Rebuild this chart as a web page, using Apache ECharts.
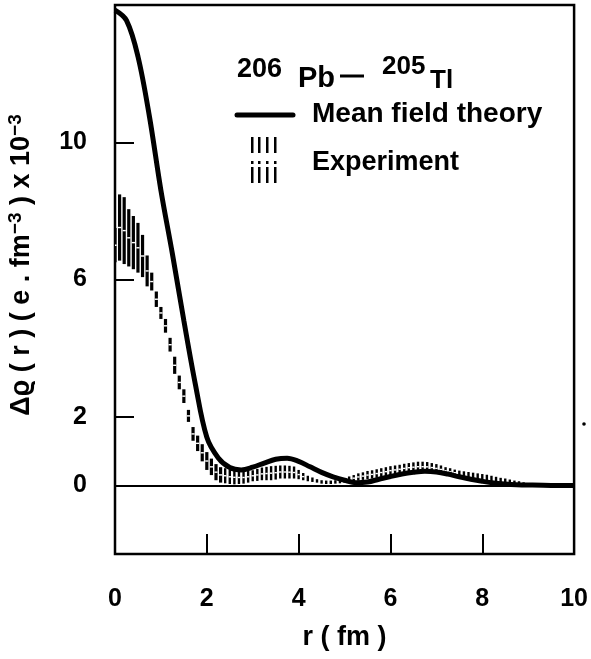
<!DOCTYPE html>
<html>
<head>
<meta charset="utf-8">
<script src="https://cdn.jsdelivr.net/npm/echarts@6/dist/echarts.min.js"></script>
<style>
  html, body { margin: 0; padding: 0; background: #fff; }
  #chart { width: 591px; height: 659px; }
</style>
</head>
<body>
<div id="chart"></div>
<script>
// mean field theory curve
const rTheory = [0, 0.25, 0.5, 0.75, 1.0, 1.25, 1.5, 1.75, 2.0, 2.25, 2.5, 2.75, 3.0, 3.25, 3.5, 3.75, 4.0, 4.25, 4.5, 4.75,
  5.0, 5.25, 5.5, 5.75, 6.0, 6.25, 6.5, 6.75, 7.0, 7.25, 7.5, 7.75, 8.0, 8.25, 8.5, 8.75, 9.0, 9.5, 10]
const theory = [13.85, 13.55, 12.5, 10.75, 8.6, 6.75, 4.8, 2.95, 1.4, 0.8, 0.52, 0.45, 0.53, 0.65, 0.76, 0.79, 0.7, 0.54, 0.38, 0.25,
  0.15, 0.08, 0.1, 0.18, 0.26, 0.33, 0.38, 0.41, 0.39, 0.33, 0.25, 0.18, 0.12, 0.07, 0.04, 0.02, 0.01, 0, 0]

// experiment error bars (low / high)
const rExp = [0, 0.1, 0.2, 0.3, 0.4, 0.5, 0.6, 0.7, 0.8, 0.9, 1.0, 1.1, 1.2, 1.3, 1.4, 1.5, 1.6, 1.7, 1.8, 1.9,
  2.0, 2.1, 2.2, 2.3, 2.4, 2.5, 2.6, 2.7, 2.8, 2.9, 3.0, 3.1, 3.2, 3.3, 3.4, 3.5, 3.6, 3.7, 3.8, 3.9,
  4.0, 4.1, 4.2, 4.3, 4.4, 4.5, 4.6, 4.7, 4.8, 4.9, 5.0, 5.1, 5.2, 5.3, 5.4, 5.5, 5.6, 5.7, 5.8, 5.9,
  6.0, 6.1, 6.2, 6.3, 6.4, 6.5, 6.6, 6.7, 6.8, 6.9, 7.0, 7.1, 7.2, 7.3, 7.4, 7.5, 7.6, 7.7, 7.8, 7.9,
  8.0, 8.1, 8.2, 8.3, 8.4, 8.5, 8.6, 8.7, 8.8, 8.9, 9.0]
const expLow = [6.5, 6.55, 6.45, 6.38, 6.3, 6.2, 6.07, 5.8, 5.68, 5.2, 4.85, 4.45, 3.9, 3.25, 2.8, 2.4, 1.85, 1.3, 1.0, 0.7,
  0.45, 0.3, 0.15, 0.08, 0.06, 0.04, 0.03, 0.04, 0.05, 0.08, 0.12, 0.13, 0.15, 0.15, 0.15, 0.17, 0.2, 0.2, 0.2, 0.2,
  0.18, 0.15, 0.12, 0.1, 0.08, 0.05, 0.04, 0.04, 0.05, 0.06, 0.08, 0.1, 0.12, 0.14, 0.16, 0.18, 0.2, 0.22, 0.25, 0.27,
  0.3, 0.32, 0.34, 0.36, 0.38, 0.39, 0.4, 0.4, 0.4, 0.39, 0.37, 0.35, 0.32, 0.3, 0.28, 0.26, 0.24, 0.22, 0.2, 0.18,
  0.16, 0.14, 0.12, 0.1, 0.09, 0.07, 0.06, 0.05, 0.04, 0.03, 0.02]
const expHigh = [7.5, 8.48, 8.4, 8.05, 7.85, 7.65, 7.3, 6.7, 6.2, 5.65, 5.2, 4.85, 4.3, 3.75, 3.2, 2.8, 2.2, 1.7, 1.45, 1.2,
  0.97, 0.78, 0.62, 0.53, 0.5, 0.46, 0.44, 0.42, 0.41, 0.42, 0.44, 0.48, 0.52, 0.54, 0.56, 0.57, 0.58, 0.58, 0.57, 0.55,
  0.45, 0.36, 0.28, 0.23, 0.18, 0.15, 0.14, 0.14, 0.15, 0.17, 0.2, 0.26, 0.3, 0.35, 0.38, 0.42, 0.44, 0.47, 0.5, 0.53,
  0.56, 0.58, 0.6, 0.63, 0.65, 0.67, 0.69, 0.69, 0.68, 0.65, 0.62, 0.58, 0.53, 0.5, 0.46, 0.43, 0.41, 0.39, 0.37, 0.35,
  0.33, 0.31, 0.28, 0.25, 0.22, 0.2, 0.17, 0.14, 0.12, 0.09, 0.06]

const xTicks = [2, 4, 6, 8]
const yTicks = [2, 6, 10]
const yLabels = [0, 2, 6, 10]

const FONT = "'Liberation Sans', Arial, sans-serif"

const myChart = echarts.init(document.getElementById('chart'), null, { renderer: 'canvas' })

const expData = rExp.map((r, i) => [r, expLow[i], expHigh[i]])

const option = {
  animation: false,
  backgroundColor: '#fff',
  grid: {
    left: 115, right: 14, top: 5, bottom: 105,
    show: true, borderColor: '#000', borderWidth: 2.5, backgroundColor: 'transparent'
  },
  xAxis: {
    type: 'value', min: 0, max: 10, interval: 2,
    axisLine: { show: false, onZero: false },
    splitLine: { show: false },
    axisTick: { show: true, inside: true, length: 20, customValues: xTicks, lineStyle: { color: '#000', width: 2 } },
    axisLabel: { color: '#000', fontFamily: FONT, fontWeight: 'bold', fontSize: 25, margin: 33 },
    name: 'r ( fm )', nameLocation: 'middle', nameGap: 70,
    nameTextStyle: { color: '#000', fontFamily: FONT, fontWeight: 'bold', fontSize: 27 }
  },
  yAxis: {
    type: 'value', min: -2, max: 14, interval: 2,
    axisLine: { show: false, onZero: false },
    splitLine: { show: false },
    axisTick: { show: true, inside: true, length: 19, customValues: yTicks, lineStyle: { color: '#000', width: 2 } },
    axisLabel: { color: '#000', fontFamily: FONT, fontWeight: 'bold', fontSize: 25, margin: 28, customValues: yLabels }
  },
  series: [
    {
      name: 'Experiment',
      type: 'custom',
      clip: true,
      data: expData,
      encode: { x: 0, y: [1, 2] },
      renderItem: function (params, api) {
        const lo = api.coord([api.value(0), api.value(1)])
        const hi = api.coord([api.value(0), api.value(2)])
        const w = api.value(0) < 2.4 ? 3.2 : 2.4
        const mid = (lo[1] + hi[1]) / 2
        const len = lo[1] - hi[1]
        return {
          type: 'group',
          children: [
            {
              type: 'rect',
              shape: { x: lo[0] - w / 2, y: hi[1], width: w, height: Math.max(len, 1.5) },
              style: { fill: '#000' }
            },
            {
              type: 'rect',
              shape: { x: lo[0] - w / 2, y: mid - 0.7, width: w, height: 1.4 },
              style: { fill: len > 6 ? '#fff' : 'rgba(0,0,0,0)' }
            }
          ]
        }
      },
      z: 2
    },
    {
      name: 'Mean field theory',
      type: 'line',
      data: rTheory.map((r, i) => [r, theory[i]]),
      smooth: 0.35,
      symbol: 'none',
      lineStyle: { color: '#000', width: 5 },
      z: 3,
      markLine: {
        silent: true,
        symbol: 'none',
        label: { show: false },
        lineStyle: { color: '#000', width: 2, type: 'solid' },
        data: [{ yAxis: 0 }]
      }
    }
  ],
  graphic: [
    // y-axis title
    {
      type: 'text', x: 22, y: 265, rotation: Math.PI / 2,
      style: {
        text: 'Δϱ ( r ) ( e . fm{sup|−3} ) x 10{sup|−3}',
        fill: '#000', font: 'bold 27px ' + FONT, align: 'center', verticalAlign: 'middle',
        rich: { sup: { fontSize: 19, fontWeight: 'bold', fontFamily: FONT, fill: '#000', verticalAlign: 'top', padding: [0, 0, 12, 0] } }
      }
    },
    // title 206Pb - 205Tl
    { type: 'text', x: 237, y: 56, style: { text: '206', fill: '#000', font: 'bold 27px ' + FONT } },
    { type: 'text', x: 298, y: 64, style: { text: 'Pb', fill: '#000', font: 'bold 29px ' + FONT } },
    { type: 'line', shape: { x1: 340, y1: 76, x2: 364, y2: 76 }, style: { stroke: '#000', lineWidth: 3 } },
    { type: 'text', x: 382, y: 54, style: { text: '205', fill: '#000', font: 'bold 26px ' + FONT } },
    { type: 'text', x: 430, y: 68, style: { text: 'Tl', fill: '#000', font: 'bold 26px ' + FONT } },
    // legend
    { type: 'line', shape: { x1: 237, y1: 115, x2: 293, y2: 115 }, style: { stroke: '#000', lineWidth: 5, lineCap: 'round' } },
    { type: 'text', x: 312, y: 114, style: { text: 'Mean field theory', fill: '#000', font: 'bold 28px ' + FONT, verticalAlign: 'middle' } },
    { type: 'rect', shape: { x: 251, y: 137, width: 2.5, height: 16 }, style: { fill: '#000' } },
    { type: 'rect', shape: { x: 258, y: 137, width: 2.5, height: 16 }, style: { fill: '#000' } },
    { type: 'rect', shape: { x: 266, y: 137, width: 2.5, height: 16 }, style: { fill: '#000' } },
    { type: 'rect', shape: { x: 274, y: 137, width: 2.5, height: 16 }, style: { fill: '#000' } },
    { type: 'rect', shape: { x: 251, y: 161, width: 2.5, height: 3 }, style: { fill: '#000' } },
    { type: 'rect', shape: { x: 258, y: 161, width: 2.5, height: 3 }, style: { fill: '#000' } },
    { type: 'rect', shape: { x: 266, y: 161, width: 2.5, height: 3 }, style: { fill: '#000' } },
    { type: 'rect', shape: { x: 274, y: 161, width: 2.5, height: 3 }, style: { fill: '#000' } },
    { type: 'rect', shape: { x: 251, y: 167, width: 2.5, height: 16 }, style: { fill: '#000' } },
    { type: 'rect', shape: { x: 258, y: 167, width: 2.5, height: 16 }, style: { fill: '#000' } },
    { type: 'rect', shape: { x: 266, y: 167, width: 2.5, height: 16 }, style: { fill: '#000' } },
    { type: 'rect', shape: { x: 274, y: 167, width: 2.5, height: 16 }, style: { fill: '#000' } },
    { type: 'text', x: 312, y: 163, style: { text: 'Experiment', fill: '#000', font: 'bold 27px ' + FONT, verticalAlign: 'middle' } },
    // small speck right of the frame
    { type: 'circle', shape: { cx: 584, cy: 424, r: 1.8 }, style: { fill: '#000' } }
  ]
}

myChart.setOption(option)
window.addEventListener('resize', myChart.resize)
</script>
</body>
</html>
